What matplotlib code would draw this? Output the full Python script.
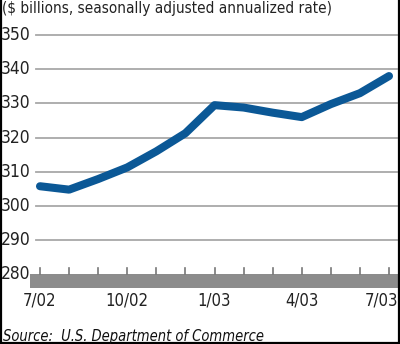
import matplotlib
matplotlib.use("Agg")
from matplotlib import pyplot as plt
from matplotlib.lines import Line2D

# monthly values, 7/02 .. 7/03
months = list(range(13))
values = [305.8, 304.8, 307.9, 311.3, 316.0, 321.3, 329.5, 328.8, 327.3, 326.0, 329.8, 333.0, 338.0]
yticks = [280, 290, 300, 310, 320, 330, 340, 350]
xtick_pos = [0, 3, 6, 9, 12]
xtick_labels = ["7/02", "10/02", "1/03", "4/03", "7/03"]

plt.rcParams['font.family'] = ['DejaVu Sans']
plt.rcParams['font.stretch'] = 'condensed'

fig = plt.figure(figsize=(4.0, 3.44), dpi=100)
# axes spans px x 30..400, y 20..290
ax = fig.add_axes([30/400, 54/344, 370/400, 270/344])
ppu = 3.42  # pixels per unit
ax.set_ylim(280 - (290 - 274.5) / ppu, 350 + (35 - 20) / ppu)
ax.set_xlim(-10/29.1, 12 + 11/29.1)
ax.axis('off')

# gridlines
for v in yticks[1:]:
    ax.plot([-0.14, 12.27], [v, v], color='#a8a8a8', lw=1.3, zorder=1)
for v in yticks:
    ax.text(-0.34 - 29/29.1, v, str(v), ha='left', va='center', fontsize=12.5, color='#222222', clip_on=False)

# gray base band with month ticks
ax.axhspan(276.0, 280.1, xmin=0, xmax=1, color='#8c8c8c', lw=0, zorder=2)
for m in months:
    ax.plot([m, m], [280.1, 281.8], color='#777777', lw=1.2, zorder=2)
for p, lab in zip(xtick_pos, xtick_labels):
    ha = 'center'
    x = p
    if p == months[-1]:
        ha = 'right'
        x = p + 9/29.1
    ax.text(x, 276.0 - 12/ppu, lab, ha=ha, va='center', fontsize=12, color='#222222', clip_on=False)

ax.plot(months, values, color='#0b5896', lw=5.8, solid_capstyle='round', solid_joinstyle='round', zorder=3)

fig.text(2/400, 1 - 9/344, "($ billions, seasonally adjusted annualized rate)", ha='left', va='center',
         fontsize=11, color='#222222')
fig.text(3/400, 1 - 336/344, "Source:  U.S. Department of Commerce", ha='left', va='center',
         fontsize=10.5, style='italic', color='#111111')

# frame on left, right, bottom
for xs, ys in [([0.5/400, 0.5/400], [0, 1]), ([398.5/400, 398.5/400], [0, 1]), ([0, 1], [1.2/344, 1.2/344])]:
    fig.add_artist(Line2D(xs, ys, color='black', lw=1.6, transform=fig.transFigure))

fig.savefig("out.png", dpi=100)
